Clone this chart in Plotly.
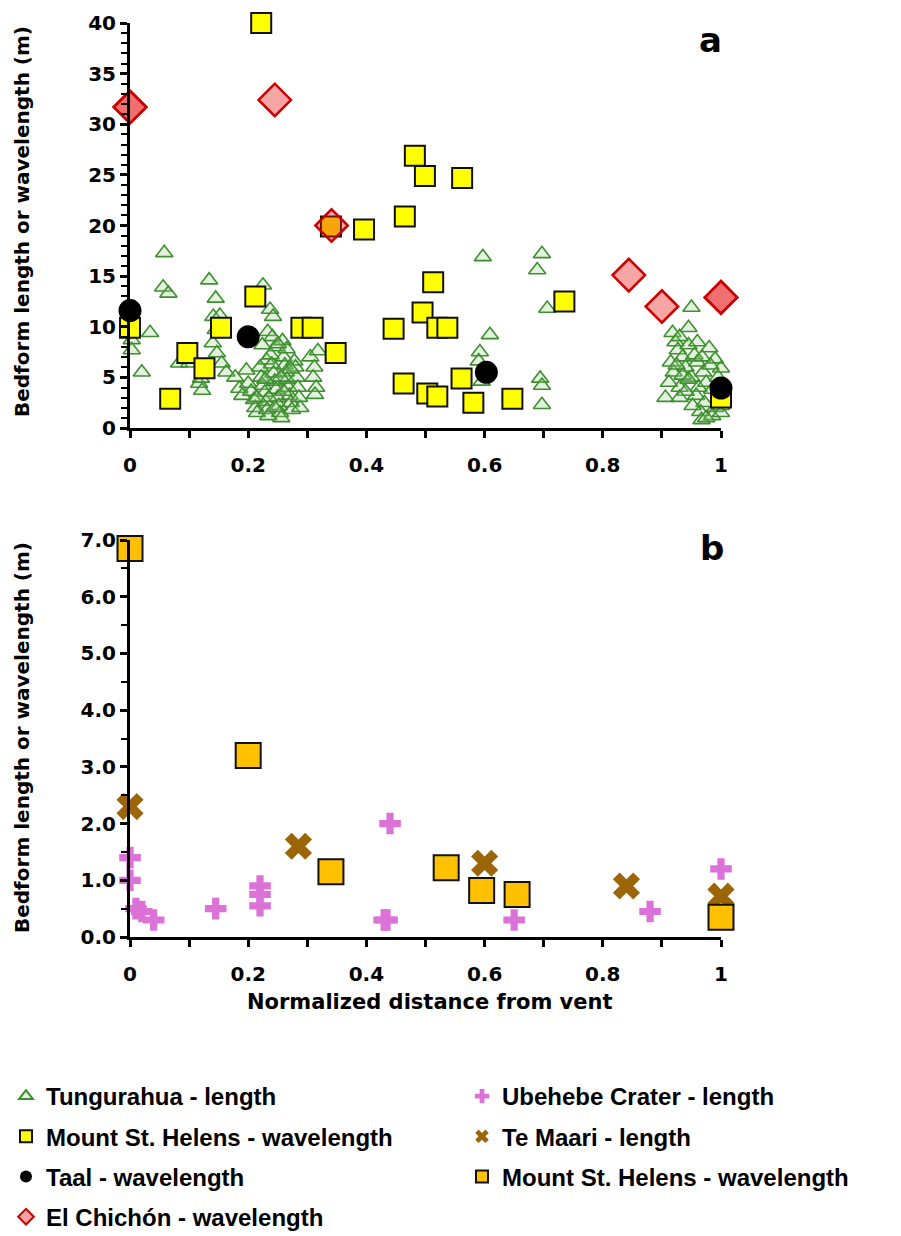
import plotly.graph_objects as go

# ---------------- Panel a: bedform length / wavelength (m) ----------------
tung_x = [0.003, 0.003, 0.003, 0.034, 0.02, 0.058, 0.056, 0.065, 0.134, 0.145,
          0.141, 0.152, 0.145, 0.14, 0.147, 0.155, 0.163, 0.083, 0.1, 0.117,
          0.122, 0.12,
          0.225, 0.237, 0.242, 0.233, 0.241, 0.248, 0.224, 0.231,
          0.178, 0.185, 0.19, 0.197, 0.2, 0.205, 0.21, 0.212, 0.215, 0.22,
          0.222, 0.225, 0.228, 0.23, 0.232, 0.234, 0.238, 0.24, 0.243, 0.245,
          0.247, 0.25, 0.252, 0.254, 0.256, 0.258, 0.26, 0.262, 0.264, 0.266,
          0.268, 0.27, 0.272, 0.274, 0.278, 0.28, 0.282, 0.284, 0.286, 0.288,
          0.265, 0.25, 0.235, 0.245, 0.26, 0.272, 0.255, 0.215, 0.229,
          0.305, 0.318, 0.312, 0.31, 0.315, 0.313,
          0.597, 0.697, 0.689, 0.706, 0.609, 0.592, 0.59, 0.595, 0.694, 0.697,
          0.697,
          0.95, 0.945, 0.918, 0.923, 0.927, 0.98, 1.0, 0.965, 0.967, 0.906,
          0.915, 0.92, 0.912, 0.93, 0.935, 0.94, 0.945, 0.95, 0.955, 0.96,
          0.962, 0.958, 0.97, 0.975, 0.972, 0.985, 0.99, 0.995, 0.99, 0.985,
          0.998, 0.93, 0.94, 0.952, 0.975, 0.968, 0.935, 0.925, 0.945, 0.982,
          1.0, 1.0, 0.96, 0.93]
tung_y = [9.7, 8.7, 7.7, 9.4, 5.5, 17.3, 13.9, 13.3, 14.6, 12.8,
          11.0, 11.1, 9.7, 8.4, 7.4, 6.4, 5.5, 6.4, 6.4, 4.4,
          3.7, 4.9,
          14.1, 11.7, 11.0, 9.5, 9.0, 8.0, 8.2, 6.7,
          5.0, 3.9, 3.2, 5.7, 4.4, 3.6, 2.8, 2.0, 1.5, 6.0,
          5.0, 4.2, 3.5, 2.6, 1.8, 1.2, 7.2, 6.3, 5.4, 4.6,
          3.8, 3.0, 2.2, 1.5, 1.0, 8.6, 7.0, 6.2, 5.5, 4.8,
          4.0, 3.2, 2.5, 1.8, 6.6, 6.0, 5.0, 4.0, 3.0, 2.0,
          7.8, 8.3, 3.0, 2.0, 3.6, 5.8, 5.0, 3.0, 4.8,
          7.0, 7.6, 6.0, 5.0, 4.0, 3.3,
          16.9, 17.2, 15.6, 11.8, 9.2, 7.5, 6.6, 4.6, 4.9, 4.2,
          2.3,
          11.9, 9.9, 9.4, 8.5, 7.7, 7.9, 5.9, 1.6, 0.8, 3.0,
          6.5, 5.5, 4.5, 9.0, 7.0, 6.0, 8.2, 5.0, 7.2, 6.5,
          4.0, 3.2, 5.5, 4.5, 2.5, 3.8, 6.8, 5.0, 2.0, 1.2,
          3.5, 4.0, 3.6, 2.2, 1.0, 7.0, 5.2, 6.2, 4.8, 6.2,
          2.2, 1.5, 8.5, 3.0]

msh_a_x = [0.222, 0.34, 0.396, 0.482, 0.499, 0.562, 0.465, 0.0, 0.097, 0.126,
           0.154, 0.212, 0.068, 0.29, 0.309, 0.348, 0.446, 0.495, 0.513, 0.52,
           0.537, 0.463, 0.503, 0.52, 0.561, 0.581, 0.647, 0.735, 1.0]
msh_a_y = [40.0, 19.9, 19.6, 26.9, 24.9, 24.7, 20.9, 9.9, 7.4, 5.9,
           9.9, 13.0, 2.9, 9.9, 9.9, 7.4, 9.8, 11.4, 14.4, 9.9,
           9.9, 4.4, 3.4, 3.1, 4.9, 2.5, 2.9, 12.5, 3.0]

taal_x = [0.0, 0.2, 0.603, 1.0]
taal_y = [11.6, 9.0, 5.5, 3.95]

chichon_x = [0.0, 0.0, 0.245, 0.341, 0.844, 0.9, 1.0, 1.0]
chichon_y = [31.7, 31.7, 32.4, 20.0, 15.1, 12.0, 12.9, 12.9]

# ---------------- Panel b ----------------
ube_x = [0.0, 0.0, 0.01, 0.02, 0.04, 0.145, 0.22, 0.22, 0.22, 0.43,
         0.435, 0.44, 0.65, 0.88, 1.0]
ube_y = [1.4, 1.0, 0.5, 0.45, 0.3, 0.5, 0.9, 0.75, 0.55, 0.3,
         0.3, 2.0, 0.3, 0.45, 1.2]

temaari_x = [0.0, 0.285, 0.6, 0.84, 1.0]
temaari_y = [2.3, 1.6, 1.3, 0.9, 0.72]

msh_b_x = [0.0, 0.2, 0.34, 0.535, 0.595, 0.655, 1.0]
msh_b_y = [6.85, 3.2, 1.15, 1.22, 0.82, 0.75, 0.35]

W, H = 901, 1236
L, R = 130, 180


def py(p):
    return 1 - p / H


def px(p):
    return (p - L) / (W - L - R)


fig = go.Figure()

fig.add_trace(go.Scatter(
    x=tung_x, y=tung_y, mode="markers", name="Tungurahua - length",
    marker=dict(symbol="triangle-up", size=15, color="rgba(150,210,140,0.28)",
                line=dict(color="#3f8f30", width=1.6)),
    xaxis="x", yaxis="y", cliponaxis=False, legend="legend", legendgroup="g1"))
fig.add_trace(go.Scatter(
    x=msh_a_x, y=msh_a_y, mode="markers", name="Mount St. Helens - wavelength",
    marker=dict(symbol="square", size=20, color="#FFFF00",
                line=dict(color="#111111", width=2)),
    xaxis="x", yaxis="y", cliponaxis=False, legend="legend", legendgroup="g2"))
fig.add_trace(go.Scatter(
    x=taal_x, y=taal_y, mode="markers", name="Taal - wavelength",
    marker=dict(symbol="circle", size=23, color="#000000",
                line=dict(color="#000000", width=0)),
    xaxis="x", yaxis="y", cliponaxis=False, legend="legend", legendgroup="g3"))
fig.add_trace(go.Scatter(
    x=chichon_x, y=chichon_y, mode="markers", name="El Chichón - wavelength",
    marker=dict(symbol="diamond", size=25, color="rgba(232,30,30,0.40)",
                line=dict(color="#cc0000", width=2.5)),
    xaxis="x", yaxis="y", cliponaxis=False, legend="legend", legendgroup="g4"))

fig.add_trace(go.Scatter(
    x=ube_x, y=ube_y, mode="markers", name="Ubehebe Crater - length",
    marker=dict(symbol="cross", size=18, color="#dc72d8",
                line=dict(width=0)),
    xaxis="x2", yaxis="y2", cliponaxis=False, legend="legend2", legendgroup="g5"))
fig.add_trace(go.Scatter(
    x=temaari_x, y=temaari_y, mode="markers", name="Te Maari - length",
    marker=dict(symbol="x", size=24, color="#9c6608",
                line=dict(width=0)),
    xaxis="x2", yaxis="y2", cliponaxis=False, legend="legend2", legendgroup="g6"))
fig.add_trace(go.Scatter(
    x=msh_b_x, y=msh_b_y, mode="markers", name="Mount St. Helens - wavelength",
    marker=dict(symbol="square", size=25, color="#FFC000",
                line=dict(color="#111111", width=2)),
    xaxis="x2", yaxis="y2", cliponaxis=False, legend="legend2", legendgroup="g7"))

tick_font = dict(family="DejaVu Sans, Verdana, sans-serif", size=20, color="#000", weight="bold")
axis_common = dict(showgrid=False, zeroline=False, showline=True, linecolor="#000",
                   linewidth=3, ticks="outside", tickcolor="#000", tickwidth=2.5,
                   ticklen=7, tickfont=tick_font)

xa = dict(range=[0, 1], tickmode="array", tickvals=[0, 0.2, 0.4, 0.6, 0.8, 1],
          ticktext=["0", "0.2", "0.4", "0.6", "0.8", "1"], ticklabelstandoff=10,
          minor=dict(tickmode="array", tickvals=[0.1, 0.3, 0.5, 0.7, 0.9],
                     ticks="outside", ticklen=7, tickwidth=2.5, tickcolor="#000"),
          **axis_common)

leg_font = dict(family="Liberation Sans Narrow, Arial Narrow, Liberation Sans, sans-serif",
                size=24, color="#000", weight="bold")

fig.update_layout(
    width=W, height=H, margin=dict(l=L, r=R, t=0, b=0, autoexpand=False),
    paper_bgcolor="white", plot_bgcolor="white",
    xaxis=dict(domain=[0, 1], anchor="y", **xa),
    yaxis=dict(domain=[py(428), py(23)], anchor="x", range=[0, 40], dtick=5,
               minor=dict(dtick=1, ticks="outside", ticklen=6, tickwidth=2, tickcolor="#000"),
               **axis_common),
    xaxis2=dict(domain=[0, 1], anchor="y2", **xa),
    yaxis2=dict(domain=[py(937), py(540)], anchor="x2", range=[0, 7], dtick=1,
                tickformat=".1f",
                minor=dict(dtick=0.5, ticks="outside", ticklen=6, tickwidth=2, tickcolor="#000"),
                **axis_common),
    legend=dict(xref="container", yref="container", x=6 / W, y=1 - 1074 / H,
                xanchor="left", yanchor="top", font=leg_font, tracegroupgap=6,
                itemsizing="constant", bgcolor="rgba(0,0,0,0)"),
    legend2=dict(xref="container", yref="container", x=462 / W, y=1 - 1074 / H,
                 xanchor="left", yanchor="top", font=leg_font, tracegroupgap=6,
                 itemsizing="constant", bgcolor="rgba(0,0,0,0)"),
    showlegend=True,
)

title_font = dict(family="DejaVu Sans, Verdana, sans-serif", size=20, color="#000", weight="bold")
annotations = [
    dict(text="Bedform length or wavelength (m)", x=px(22), y=py(222), textangle=-90,
         font=title_font),
    dict(text="Bedform length or wavelength (m)", x=px(22), y=py(738), textangle=-90,
         font=title_font),
    dict(text="Normalized distance from vent", x=px(430), y=py(1002), font=dict(title_font, size=21)),
    dict(text="a", x=px(710), y=py(40), font=dict(title_font, size=34)),
    dict(text="b", x=px(712), y=py(548), font=dict(title_font, size=34)),
]
for a in annotations:
    a.update(xref="paper", yref="paper", showarrow=False, xanchor="center", yanchor="middle")
fig.update_layout(annotations=annotations)

fig.write_html("out.html")
